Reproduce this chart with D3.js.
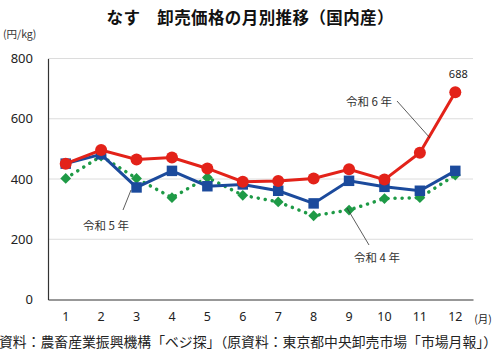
<!DOCTYPE html>
<html><head><meta charset="utf-8">
<script src="https://cdn.jsdelivr.net/npm/d3@7"></script>
<style>
html,body{margin:0;padding:0;background:#fff;}
svg{display:block;font-family:"Noto Sans CJK JP","Noto Sans",sans-serif;}
</style></head>
<body><svg id="c" width="500" height="351"></svg>
<script>
const months = [1,2,3,4,5,6,7,8,9,10,11,12];
const r6 = [451,496,465,471,435,391,393,402,432,398,487,688];
const r5 = [451,482,372,427,376,382,361,319,394,374,361,427];
const r4 = [402,476,402,338,405,346,324,278,297,335,338,413];
const yTicks = [0,200,400,600,800];

const svg = d3.select("#c");
const x = d3.scaleBand().domain(months).range([48,473]);
const y = d3.scaleLinear().domain([0,800]).range([299.5,58.5]);
const cx = m => x(m) + x.bandwidth()/2;

// title
svg.append("text").attr("x",250).attr("y",24).attr("text-anchor","middle")
  .attr("font-size",16.5).attr("font-weight","bold").attr("fill","#111")
  .attr("textLength",287).attr("lengthAdjust","spacing")
  .text("なす　卸売価格の月別推移（国内産）");
svg.append("text").attr("x",3).attr("y",38).attr("font-size",10.5).attr("fill","#333").text("(円/kg)");

// grid
svg.append("g").selectAll("line").data(yTicks.filter(d=>d>0)).join("line")
  .attr("x1",48).attr("x2",473).attr("y1",d=>y(d)).attr("y2",d=>y(d))
  .attr("stroke","#dcdcdc").attr("stroke-width",1);

// y axis
const ya = svg.append("g").attr("transform","translate(48,0)")
  .call(d3.axisLeft(y).tickValues(yTicks).tickSize(0).tickPadding(15));
ya.select(".domain").attr("stroke","#333").attr("stroke-width",1.2);
ya.selectAll("text").attr("font-size",13).attr("fill","#222")
  .attr("font-family","'Noto Sans',sans-serif");

// x axis
const xa = svg.append("g").attr("transform","translate(0,299.5)")
  .call(d3.axisBottom(x).tickSize(0).tickPadding(13));
xa.select(".domain").attr("stroke","#333").attr("stroke-width",1.2);
xa.selectAll("text").attr("font-size",12.5).attr("fill","#222")
  .attr("font-family","'Noto Sans',sans-serif");
svg.append("text").attr("x",483).attr("y",323).attr("text-anchor","middle")
  .attr("font-size",10.5).attr("fill","#222").text("(月)");

const line = d3.line().x((d,i)=>cx(months[i])).y(d=>y(d));

// 令和4年 green dotted diamonds
svg.append("path").datum(r4).attr("d",line).attr("fill","none")
  .attr("stroke","#1e9a46").attr("stroke-width",3.5).attr("stroke-linecap","round")
  .attr("stroke-dasharray","0.1 7");
svg.append("g").selectAll("path").data(r4).join("path")
  .attr("d",d3.symbol().type(d3.symbolSquare).size(58))
  .attr("transform",(d,i)=>`translate(${cx(months[i])},${y(d)}) rotate(45)`)
  .attr("fill","#1e9a46");

// 令和5年 blue squares
svg.append("path").datum(r5).attr("d",line).attr("fill","none")
  .attr("stroke","#1b4a9c").attr("stroke-width",3);
svg.append("g").selectAll("path").data(r5).join("path")
  .attr("d",d3.symbol().type(d3.symbolSquare).size(110))
  .attr("transform",(d,i)=>`translate(${cx(months[i])},${y(d)})`)
  .attr("fill","#1b4a9c");

// 令和6年 red circles
svg.append("path").datum(r6).attr("d",line).attr("fill","none")
  .attr("stroke","#e32219").attr("stroke-width",3);
svg.append("g").selectAll("circle").data(r6).join("circle")
  .attr("cx",(d,i)=>cx(months[i])).attr("cy",d=>y(d)).attr("r",6)
  .attr("fill","#e32219");

// value label
svg.append("text").attr("x",cx(12)+3).attr("y",y(r6[11])-14).attr("text-anchor","middle")
  .attr("font-size",11).attr("fill","#222").attr("font-family","'Noto Sans',sans-serif").text("688");

// annotations
const ann = [
  {t:"令和 6 年", tx:346, ty:106, l:[397,101,430,138]},
  {t:"令和 5 年", tx:83, ty:230, l:[131,190,123,210]},
  {t:"令和 4 年", tx:354, ty:262, l:[347,208,369,245]}
];
ann.forEach(a=>{
  svg.append("line").attr("x1",a.l[0]).attr("y1",a.l[1]).attr("x2",a.l[2]).attr("y2",a.l[3])
    .attr("stroke","#333").attr("stroke-width",0.8);
  svg.append("text").attr("x",a.tx).attr("y",a.ty).attr("font-size",11.5).attr("fill","#333").text(a.t);
});

// source
svg.append("text").attr("x",-1).attr("y",347).attr("font-size",13.6).attr("fill","#222")
  .attr("textLength",498).attr("lengthAdjust","spacingAndGlyphs")
  .text("資料：農畜産業振興機構「ベジ探」（原資料：東京都中央卸売市場「市場月報」）");
</script></body></html>
